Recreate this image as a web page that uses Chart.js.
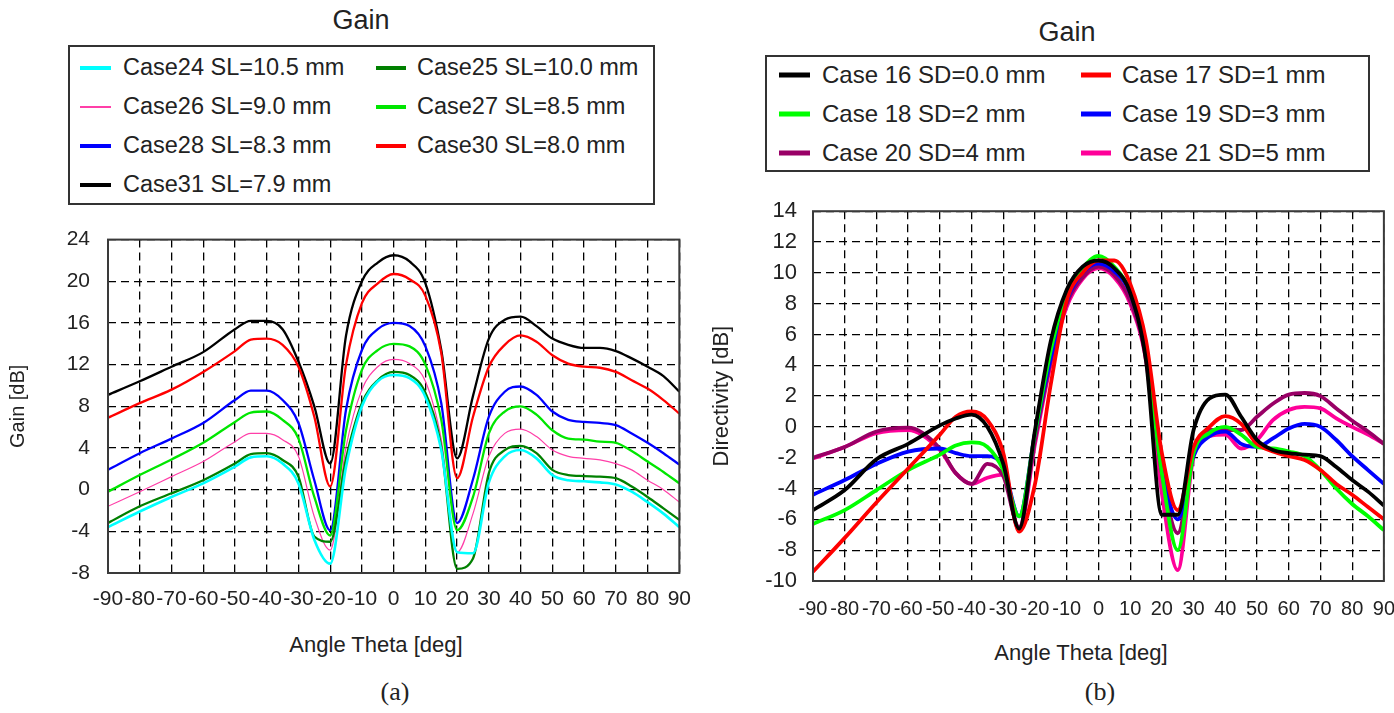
<!DOCTYPE html>
<html lang="en">
<head>
<meta charset="UTF-8">
<title>Gain</title>
<script src="https://cdn.jsdelivr.net/npm/chart.js"></script>
<style>
  body { margin: 0; background: #fff; width: 1394px; height: 713px; position: relative; overflow: hidden;
         font-family: "Liberation Sans", Arial, sans-serif; color: #222; }
  .title { position: absolute; font-size: 27px; transform: translate(-50%, -50%); white-space: nowrap; }
  .axis { position: absolute; font-size: 22px; transform: translate(-50%, -50%); white-space: nowrap; }
  .legend { position: absolute; border: 2px solid #333; box-sizing: border-box; }
  .item { position: absolute; white-space: nowrap; line-height: 1; transform: translateY(-50%); }
  .swatch { position: absolute; transform: translateY(-50%); }
  .caption { position: absolute; font-family: "Liberation Serif", serif; font-size: 26px; transform: translate(-50%, -50%); }
  canvas { position: absolute; }
</style>
</head>
<body>
<div class="title" style="left:361px; top:20px;">Gain</div>
<div class="title" style="left:1067px; top:32px;">Gain</div>
<div class="legend" style="left:68px; top:45px; width:587px; height:160px;"></div>
<div class="legend" style="left:765px; top:55px; width:605px; height:117px;"></div>
<div id="legendA"></div>
<div id="legendB"></div>
<canvas id="chartA" width="700" height="400" style="left:0; top:225px;"></canvas>
<canvas id="chartB" width="694" height="430" style="left:700px; top:195px;"></canvas>
<div class="axis" style="left:376px; top:645px;">Angle Theta [deg]</div>
<div class="axis" style="left:1081px; top:653px;">Angle Theta [deg]</div>
<div class="caption" style="left:395px; top:692px;">(a)</div>
<div class="caption" style="left:1100px; top:692px;">(b)</div>

<script>
// angles shared by both panels
const angles = [-90, -80, -70, -60, -50, -45, -40, -35, -30, -25, -20, -15, -10, -5, 0, 5, 10, 15, 20, 25, 30, 35, 40, 45, 50, 55, 60, 65, 70, 75, 80, 85, 90];

// (a) Gain [dB]
const labelsA = ['Case24 SL=10.5 mm', 'Case25 SL=10.0 mm', 'Case26 SL=9.0 mm', 'Case27 SL=8.5 mm',
                 'Case28 SL=8.3 mm', 'Case30 SL=8.0 mm', 'Case31 SL=7.9 mm'];
const case24 = [-3.6, -2.1, -0.7, 0.6, 2.2, 3.1, 3.2, 2.5, 0.6, -4.8, -7.1, 2.2, 8.0, 10.4, 11.0, 10.7, 8.9, 3.8, -6.0, -6.1, 0.7, 3.2, 3.8, 3.0, 1.4, 0.9, 0.8, 0.7, 0.5, -0.2, -1.2, -2.3, -3.6];
const case25 = [-3.2, -1.6, -0.35, 0.9, 2.5, 3.4, 3.5, 2.85, 1.25, -4.5, -5.0, 3.0, 8.3, 10.5, 11.3, 11.0, 9.3, 4.1, -7.6, -6.6, 1.6, 3.8, 4.2, 3.5, 1.9, 1.4, 1.3, 1.25, 1.1, 0.3, -0.7, -1.8, -2.9];
const case26 = [-1.6, -0.2, 1.25, 2.7, 4.6, 5.4, 5.4, 4.8, 3.2, -2.6, -5.8, 4.1, 9.6, 11.8, 12.5, 12.1, 10.4, 4.8, -6.0, -2.3, 3.2, 5.4, 5.8, 5.1, 3.8, 3.2, 3.0, 2.85, 2.5, 1.9, 0.9, 0.0, -1.2];
const case27 = [-0.2, 1.4, 2.9, 4.5, 6.5, 7.4, 7.5, 6.7, 4.9, -0.7, -4.4, 5.7, 11.5, 13.4, 14.0, 13.75, 12.0, 6.7, -3.9, -0.7, 5.4, 7.5, 8.0, 7.2, 5.7, 4.9, 4.8, 4.6, 4.5, 3.7, 2.7, 1.7, 0.6];
const case28 = [1.9, 3.5, 4.9, 6.4, 8.6, 9.5, 9.5, 8.6, 6.4, 0.9, -3.9, 7.7, 13.4, 15.4, 16.0, 15.7, 13.75, 8.3, -3.2, 1.0, 7.0, 9.4, 9.9, 9.1, 7.5, 6.7, 6.5, 6.4, 6.2, 5.4, 4.5, 3.5, 2.4];
const case30 = [6.9, 8.3, 9.6, 11.3, 13.3, 14.4, 14.5, 13.9, 11.8, 7.0, 0.3, 12.0, 17.9, 19.8, 20.7, 20.2, 18.6, 13.1, 1.1, 7.0, 11.8, 13.9, 14.8, 14.2, 12.9, 12.1, 11.8, 11.7, 11.3, 10.5, 9.7, 8.6, 7.3];
const case31 = [9.1, 10.4, 11.8, 13.2, 15.4, 16.2, 16.2, 15.4, 12.3, 8.0, 2.5, 14.8, 20.0, 21.8, 22.5, 21.9, 19.8, 13.4, 3.0, 9.0, 14.5, 16.3, 16.6, 15.7, 14.5, 13.9, 13.6, 13.6, 13.3, 12.6, 11.8, 10.9, 9.4];
const yTicksA = [-8, 24, 4];

// (b) Directivity [dB]
const labelsB = ['Case 16 SD=0.0 mm', 'Case 17 SD=1 mm', 'Case 18 SD=2 mm', 'Case 19 SD=3 mm', 'Case 20 SD=4 mm', 'Case 21 SD=5 mm'];
const case16 = [-5.4, -4.1, -2.1, -1.1, 0.1, 0.55, 0.8, 0.0, -2.4, -6.6, -0.2, 5.6, 8.9, 10.4, 10.8, 10.3, 8.7, 4.3, -5.7, -5.7, -0.2, 1.85, 2.1, 0.66, -0.85, -1.5, -1.7, -1.8, -1.9, -2.6, -3.45, -4.2, -5.1];
const case17 = [-9.4, -7.2, -4.9, -2.7, -0.5, 0.66, 1.0, 0.44, -1.7, -6.8, -3.7, 2.8, 8.2, 10.0, 10.8, 10.8, 9.3, 5.6, -1.7, -5.4, -1.3, 0.0, 0.7, 0.2, -1.1, -1.6, -1.9, -2.15, -2.8, -3.7, -4.4, -5.2, -6.0];
const case18 = [-6.3, -5.4, -4.1, -2.8, -1.8, -1.2, -1.0, -1.3, -2.8, -5.8, -0.4, 5.0, 8.7, 10.3, 11.1, 10.4, 8.8, 5.0, -3.0, -8.0, -1.7, -0.4, 0.0, -0.5, -1.3, -1.4, -1.6, -1.9, -2.8, -4.0, -5.0, -5.8, -6.7];
const case19 = [-4.4, -3.45, -2.4, -1.6, -1.4, -1.7, -1.9, -1.9, -2.6, -5.8, -0.4, 4.5, 8.2, 10.0, 10.6, 10.1, 8.7, 4.8, -2.6, -6.0, -1.9, -0.6, -0.3, -1.1, -1.3, -0.75, -0.1, 0.2, 0.0, -0.85, -1.9, -2.8, -3.7];
const case20 = [-2.0, -1.3, -0.3, -0.05, -1.4, -3.0, -3.7, -2.4, -3.2, -6.5, -0.85, 4.3, 8.0, 9.7, 10.4, 9.85, 8.2, 4.55, -3.0, -6.9, -1.7, -0.2, -0.2, -0.2, 0.66, 1.5, 2.1, 2.2, 2.0, 1.2, 0.4, -0.3, -1.1];
const case21 = [-2.05, -1.3, -0.4, -0.2, -1.5, -3.0, -3.7, -3.3, -3.1, -6.7, -1.1, 4.1, 7.8, 9.6, 10.3, 9.7, 8.0, 4.3, -4.3, -9.3, -1.9, -0.6, -0.5, -1.4, -0.85, 0.44, 1.1, 1.3, 1.2, 0.55, 0.0, -0.5, -1.1];
const yTicksB = [-10, 14, 2];

const font = '"Liberation Sans", Arial, sans-serif';

function series(label, values, color, width) {
    return {
        label: label,
        data: angles.map((a, i) => ({ x: a, y: values[i] })),
        borderColor: color,
        borderWidth: width,
        pointRadius: 0,
        cubicInterpolationMode: 'monotone',
        fill: false
    };
}

const setA = [
    series(labelsA[0], case24, '#00ffff', 2.6),
    series(labelsA[1], case25, '#008000', 2.3),
    series(labelsA[2], case26, '#ff3fa8', 1.2),
    series(labelsA[3], case27, '#00e600', 2.3),
    series(labelsA[4], case28, '#0000ff', 2.3),
    series(labelsA[5], case30, '#ff0000', 2.3),
    series(labelsA[6], case31, '#000000', 2.3)
];
const setB = [
    series(labelsB[0], case16, '#000000', 3.8),
    series(labelsB[1], case17, '#ff0000', 3.8),
    series(labelsB[2], case18, '#00ff00', 3.8),
    series(labelsB[3], case19, '#0000ff', 3.8),
    series(labelsB[4], case20, '#990066', 3.8),
    series(labelsB[5], case21, '#ff0099', 3.8)
];

// box round the plot area
const frame = {
    id: 'frame',
    afterDatasetsDraw(chart) {
        const { ctx, chartArea: a } = chart;
        ctx.save();
        ctx.strokeStyle = '#3a3a3a';
        ctx.lineWidth = 2;
        ctx.strokeRect(a.left, a.top, a.right - a.left, a.bottom - a.top);
        ctx.restore();
    }
};

function makeChart(canvas, datasets, yt, c) {
    return new Chart(canvas, {
        type: 'line',
        data: { datasets: datasets },
        options: {
            responsive: false,
            animation: false,
            layout: { padding: { top: 15, right: 12, left: 0, bottom: 0 } },
            plugins: { legend: { display: false }, tooltip: { enabled: false } },
            scales: {
                x: {
                    type: 'linear', min: -90, max: 90,
                    ticks: { stepSize: 10, autoSkip: false, maxRotation: 0, color: '#222', padding: c.xPad, font: { family: font, size: c.xSize } },
                    grid: { color: '#000', lineWidth: 1.3, drawTicks: false },
                    border: { display: false, dash: [8, 5] },
                    afterFit: s => { s.height = 40; }
                },
                y: {
                    min: yt[0], max: yt[1],
                    ticks: { stepSize: yt[2], color: '#222', padding: c.yPad, font: { family: font, size: c.ySize } },
                    grid: { color: '#000', lineWidth: 1.3, drawTicks: false },
                    border: { display: false, dash: [8, 5] },
                    title: { display: true, text: c.yTitle, color: '#222', font: { family: font, size: c.yTitleSize }, padding: { top: c.yTitlePad, bottom: 0 } },
                    afterFit: s => { s.width = c.yW; }
                }
            }
        },
        plugins: [frame]
    });
}

// draw once, then move and resize the canvas so the plot area sits on the target box
function build(id, datasets, yt, c, T) {
    const canvas = document.getElementById(id);
    let chart = makeChart(canvas, datasets, yt, c);
    for (let k = 0; k < 2; k++) {
        const a = chart.chartArea;
        const w = Math.round(chart.width + (T.r - T.l) - (a.right - a.left));
        const h = Math.round(chart.height + (T.b - T.t) - (a.bottom - a.top));
        const left = T.l - a.left, top = T.t - a.top;
        chart.destroy();
        canvas.width = w; canvas.height = h;
        canvas.style.width = w + 'px'; canvas.style.height = h + 'px';
        canvas.style.left = left + 'px'; canvas.style.top = top + 'px';
        chart = makeChart(canvas, datasets, yt, c);
    }
    return chart;
}

build('chartA', setA, yTicksA, { yW: 108, xPad: 14, xSize: 21, yPad: 18, ySize: 21, yTitle: 'Gain [dB]', yTitleSize: 20, yTitlePad: 6 },
      { l: 108, t: 240, r: 679, b: 573 });
build('chartB', setB, yTicksB, { yW: 113, xPad: 16, xSize: 20, yPad: 16, ySize: 22, yTitle: 'Directivity [dB]', yTitleSize: 22, yTitlePad: 9 },
      { l: 813, t: 211, r: 1384, b: 581 });

// legends in two columns, filled row by row
function legend(el, datasets, cols, rows, lineW, size) {
    const box = document.getElementById(el);
    datasets.forEach((d, i) => {
        const col = cols[i % 2], y = rows[Math.floor(i / 2)];
        const sw = document.createElement('div');
        sw.className = 'swatch';
        const h = d.borderWidth < 2 ? 2 : lineW;
        sw.style.cssText = `left:${col[0]}px; top:${y}px; width:${col[1] - col[0]}px; height:${h}px; background:${d.borderColor};`;
        box.appendChild(sw);
        const t = document.createElement('div');
        t.className = 'item';
        t.style.left = col[2] + 'px';
        t.style.top = y + 'px';
        t.style.fontSize = size + 'px';
        t.textContent = d.label;
        box.appendChild(t);
    });
}
legend('legendA', setA, [[80, 111, 123], [376, 406, 417]], [68, 107, 146, 185], 4, 23.5);
legend('legendB', setB, [[779, 810, 822], [1081, 1111, 1122]], [75, 114, 153], 5, 24);
</script>
</body>
</html>
